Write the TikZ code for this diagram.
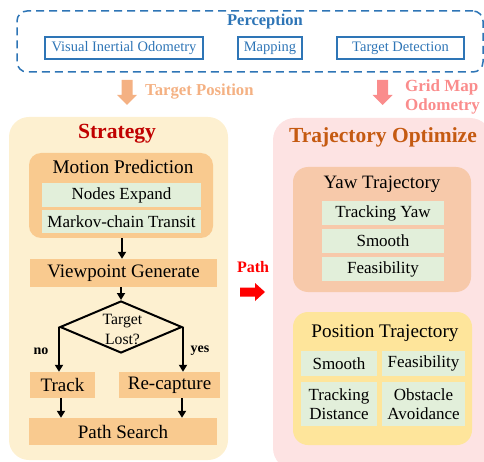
\documentclass[tikz,border=0pt]{standalone}
\usepackage{fontspec}
\setmainfont{Liberation Serif}
\usetikzlibrary{shapes.geometric,arrows.meta}

\definecolor{pblue}{HTML}{2E75B6}
\definecolor{tposc}{HTML}{F4B183}
\definecolor{gridc}{HTML}{FA8C8C}
\definecolor{stratbg}{HTML}{FDF0D0}
\definecolor{orangebox}{HTML}{F9CA8F}
\definecolor{greenbox}{HTML}{E2EFDA}
\definecolor{trajbg}{HTML}{FDE3E3}
\definecolor{yawbox}{HTML}{F7C9AA}
\definecolor{posbox}{HTML}{FEE59B}
\definecolor{stratred}{HTML}{C00000}
\definecolor{trajtitle}{HTML}{C55A11}
\definecolor{pathred}{HTML}{FF0000}

\newcommand\fsz[2]{\fontsize{#1pt}{#2pt}\selectfont}

\begin{document}
\begin{tikzpicture}[x=1pt,y=-1pt,
  panel/.style={inner sep=0pt, rounded corners=#1},
  item/.style={fill=greenbox, inner sep=0pt, font=\fsz{17}{19}, align=center},
  ostep/.style={fill=orangebox, inner sep=0pt, font=\fsz{19}{21}},
  pitem/.style={draw=pblue, line width=1.1pt, text=pblue, inner sep=0pt,
                minimum height=22pt, font=\fsz{14.5}{16}},
  flow/.style={line width=2pt, -{Triangle[width=8pt,length=7pt]}},
  downarrow/.pic={\fill (-5.5,0) -- (5.5,0) -- (5.5,15) -- (10,15) -- (0,25)
                   -- (-10,15) -- (-5.5,15) -- cycle;},
  rightarrow/.pic={\fill (0,-4.5) -- (15,-4.5) -- (15,-9) -- (25,0) -- (15,9)
                   -- (15,4.5) -- (0,4.5) -- cycle;}
]
\useasboundingbox (0,0) rectangle (484,462);
\begin{scope}
\clip (0,0) rectangle (484,462);

% ---------- perception layer ----------
\node[panel=10pt, draw=pblue, line width=1.5pt, dash pattern=on 8pt off 5pt,
      minimum width=466pt, minimum height=61pt] (perc) at (250,41.5) {};
\node[text=pblue, font=\fsz{16.5}{18}\bfseries] (perctitle) at (265,22) {Perception};
\node[pitem, minimum width=158pt] (vio) at (124,48) {Visual Inertial Odometry};
\node[pitem, minimum width=64pt] (map) at (270,48) {Mapping};
\node[pitem, minimum width=127pt] (det) at (400.5,48) {Target Detection};

% ---------- data flowing down ----------
\pic[fill=tposc] at (127,80) {downarrow};
\node[anchor=west, text=tposc, font=\fsz{16.7}{19}\bfseries, inner sep=0pt]
  (tpos) at (145,92) {Target Position};
\pic[fill=gridc] at (382.5,80) {downarrow};
\node[anchor=west, text=gridc, font=\fsz{17}{19}\bfseries, inner sep=0pt, align=left]
  (grid) at (405,96.5) {Grid Map\\Odometry};

% ---------- strategy panel ----------
\node[panel=20pt, fill=stratbg, minimum width=219pt, minimum height=343pt]
  (strat) at (118.5,288.5) {};
\node[text=stratred, font=\fsz{21.6}{24}\bfseries] (strattitle) at (117,134) {Strategy};

\node[panel=12pt, fill=orangebox, minimum width=184pt, minimum height=85pt]
  (mp) at (121,195.5) {};
\node[font=\fsz{19.3}{21}] (mptitle) at (123,167) {Motion Prediction};
\node[item, minimum width=159pt, minimum height=24pt] (expand) at (121.5,195) {Nodes Expand};
\node[item, minimum width=159pt, minimum height=23pt] (markov) at (121.5,221.5) {Markov-chain Transit};

\node[ostep, minimum width=187pt, minimum height=28pt] (vg) at (123.5,273) {Viewpoint Generate};

\node[diamond, draw, line width=2pt, inner sep=0pt,
      minimum width=122pt, minimum height=52pt] (lost) at (121,327) {};
\node[font=\fsz{15.7}{20}, align=center, inner sep=0pt] (losttext) at (122.5,329) {Target\\Lost?};

\node[ostep, minimum width=65pt, minimum height=26pt] (track) at (62.5,385) {Track};
\node[ostep, minimum width=101pt, minimum height=26pt] (recap) at (169.5,385) {Re-capture};
\node[ostep, minimum width=188pt, minimum height=27pt] (search) at (123,431.5) {Path Search};

\draw[flow] (mp.south -| 122,0) -- (vg.north -| 122,0);
\draw[flow] (vg.south -| lost.north) -- (lost.north);
\draw[flow] (lost.west) -- (lost.west |- track.north);
\draw[flow] (lost.east) -- (lost.east |- recap.north);
\draw[flow] (track.south -| 61,0) -- (search.north -| 61,0);
\draw[flow] (recap.south -| 182,0) -- (search.north -| 182,0);

\node[font=\fsz{14}{16}\bfseries] (nolabel) at (41,351) {no};
\node[font=\fsz{14}{16}\bfseries] (yeslabel) at (200,351) {yes};

% ---------- path hand-over ----------
\node[text=pathred, font=\fsz{16}{18}\bfseries] (pathlabel) at (253,267) {Path};
\pic[fill=pathred] at (240,292) {rightarrow};

% ---------- trajectory optimisation panel ----------
\node[panel=22pt, fill=trajbg, minimum width=219pt, minimum height=352pt]
  (traj) at (382.5,294) {};
\node[text=trajtitle, font=\fsz{21.5}{24}\bfseries] (trajtitlenode) at (383,137) {Trajectory Optimize};

\node[panel=15pt, fill=yawbox, minimum width=178pt, minimum height=125pt]
  (yaw) at (382,229.5) {};
\node[font=\fsz{18.9}{21}] (yawtitle) at (382,184) {Yaw Trajectory};
\node[item, minimum width=122pt, minimum height=24pt] (tyaw) at (383,213) {Tracking Yaw};
\node[item, minimum width=122pt, minimum height=24pt] (ysmooth) at (383,241) {Smooth};
\node[item, minimum width=122pt, minimum height=24pt] (yfeas) at (383,269) {Feasibility};

\node[panel=15pt, fill=posbox, minimum width=179pt, minimum height=133pt]
  (pos) at (382.5,378.5) {};
\node[font=\fsz{19.2}{21}] (postitle) at (385,333) {Position Trajectory};
\node[item, minimum width=76pt, minimum height=25pt] (psmooth) at (339,363.5) {Smooth};
\node[item, minimum width=83pt, minimum height=25pt] (pfeas) at (423.5,363.5) {Feasibility};
\node[item, minimum width=76pt, minimum height=44pt] (pdist) at (339,404) {Tracking\\Distance};
\node[item, minimum width=83pt, minimum height=44pt] (pobs) at (423.5,404) {Obstacle\\Avoidance};

\end{scope}
\end{tikzpicture}
\end{document}
